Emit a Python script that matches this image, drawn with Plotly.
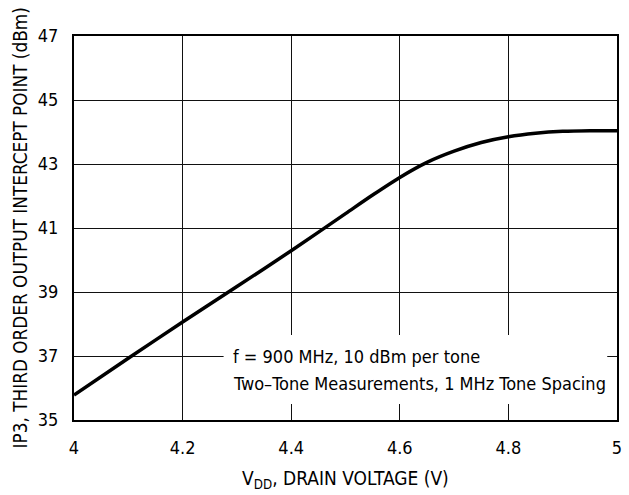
import plotly.graph_objects as go

vdd = [4.0, 4.1, 4.2, 4.3, 4.4, 4.5, 4.55, 4.6, 4.65, 4.7, 4.75, 4.8, 4.85, 4.9, 4.95, 5.0]
ip3 = [35.78, 36.93, 38.06, 39.17, 40.29, 41.45, 42.03, 42.58, 43.05, 43.4, 43.67, 43.85, 43.96, 44.02, 44.04, 44.04]

x_ticks = [4, 4.2, 4.4, 4.6, 4.8, 5]
x_tick_labels = ["4", "4.2", "4.4", "4.6", "4.8", "5"]
y_ticks = [35, 37, 39, 41, 43, 45, 47]

note_line1 = "f = 900 MHz, 10 dBm per tone"
note_line2 = "Two\u2013Tone Measurements, 1 MHz Tone Spacing"
x_title = "V<sub>DD</sub>, DRAIN VOLTAGE (V)"
y_title = "IP3, THIRD ORDER OUTPUT INTERCEPT POINT (dBm)"

FONT = "DejaVu Sans Condensed, DejaVu Sans, sans-serif"

fig = go.Figure()
fig.add_trace(go.Scatter(x=vdd, y=ip3, mode="lines", line=dict(color="black", width=3.5, shape="spline", smoothing=0.8),
                         hoverinfo="skip", showlegend=False))

fig.update_layout(
    width=629, height=495,
    margin=dict(l=74, r=7, t=36, b=75),
    paper_bgcolor="white", plot_bgcolor="white",
    font=dict(family=FONT, size=18, color="black"),
    xaxis=dict(range=[4, 5], tickvals=x_ticks, ticktext=x_tick_labels, showgrid=True,
               gridcolor="#111", gridwidth=1, showline=True, linecolor="black", linewidth=2,
               mirror=True, zeroline=False, ticks="", ticklabelstandoff=10),
    yaxis=dict(range=[35, 47], tickvals=y_ticks, showgrid=True,
               gridcolor="#111", gridwidth=1, showline=True, linecolor="black", linewidth=2,
               mirror=True, zeroline=False, ticks="", ticklabelstandoff=10),
)

fig.add_shape(type="rect", xref="x", yref="y", x0=4.2755, x1=4.982, y0=35.5, y1=37.66,
              fillcolor="white", line=dict(width=0), layer="above")

fig.add_annotation(x=4.29, y=37.0, xref="x", yref="y", text=note_line1, showarrow=False,
                   xanchor="left", yanchor="middle", font=dict(size=18))
fig.add_annotation(x=4.29, y=36.15, xref="x", yref="y", text=note_line2, showarrow=False,
                   xanchor="left", yanchor="middle", font=dict(size=18))

fig.add_annotation(x=0.5, y=-0.155, xref="paper", yref="paper", text=x_title, showarrow=False,
                   xanchor="center", yanchor="middle", font=dict(size=19))
fig.add_annotation(x=(19 - 74) / 548, y=0.5, xref="paper", yref="paper", text=y_title, showarrow=False,
                   textangle=-90, xanchor="center", yanchor="middle", font=dict(size=18.8))

fig.write_html("out.html", config={"displayModeBar": False},
               post_script="document.body.style.margin='0';document.body.style.padding='0';")
